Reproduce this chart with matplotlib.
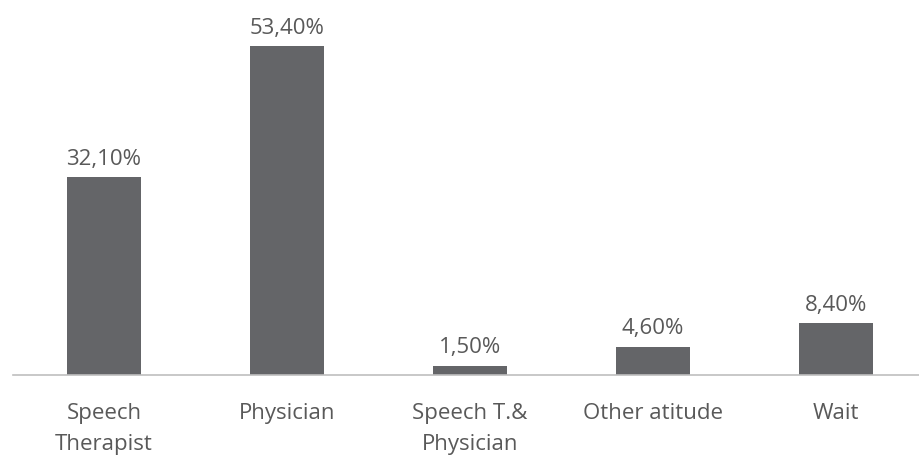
import matplotlib
matplotlib.use("Agg")
import matplotlib.pyplot as plt

categories = ["Speech\nTherapist", "Physician", "Speech T.&\nPhysician", "Other atitude", "Wait"]
values = [32.10, 53.40, 1.50, 4.60, 8.40]
value_labels = ["32,10%", "53,40%", "1,50%", "4,60%", "8,40%"]

plt.rcParams['font.family'] = ['Open Sans', 'DejaVu Sans']
text_color = "#595959"
bar_color = "#646568"

fig = plt.figure(figsize=(9.2, 4.62), dpi=100)
ax = fig.add_axes([12.5 / 920, 87 / 462, 915 / 920, 375 / 462])

x = range(len(categories))
bars = ax.bar(x, values, width=0.404, color=bar_color)

# value labels above bars
for xi, v, lab in zip(x, values, value_labels):
    ax.annotate(lab, (xi, v), xytext=(0, 5.5), textcoords="offset points",
                ha="center", va="bottom", fontsize=16, color=text_color)

ax.set_xlim(-0.5, 4.5)
ax.set_ylim(0, 60.9)
ax.set_xticks(list(x))
ax.set_xticklabels(categories, fontsize=16, color=text_color, linespacing=1.65)
ax.tick_params(axis="x", length=0, pad=20)
ax.set_yticks([])
for s in ["top", "right", "left"]:
    ax.spines[s].set_visible(False)
ax.spines["bottom"].set_color("#bfbfbf")
ax.spines["bottom"].set_linewidth(1.2)

fig.savefig("out.png", dpi=100)
